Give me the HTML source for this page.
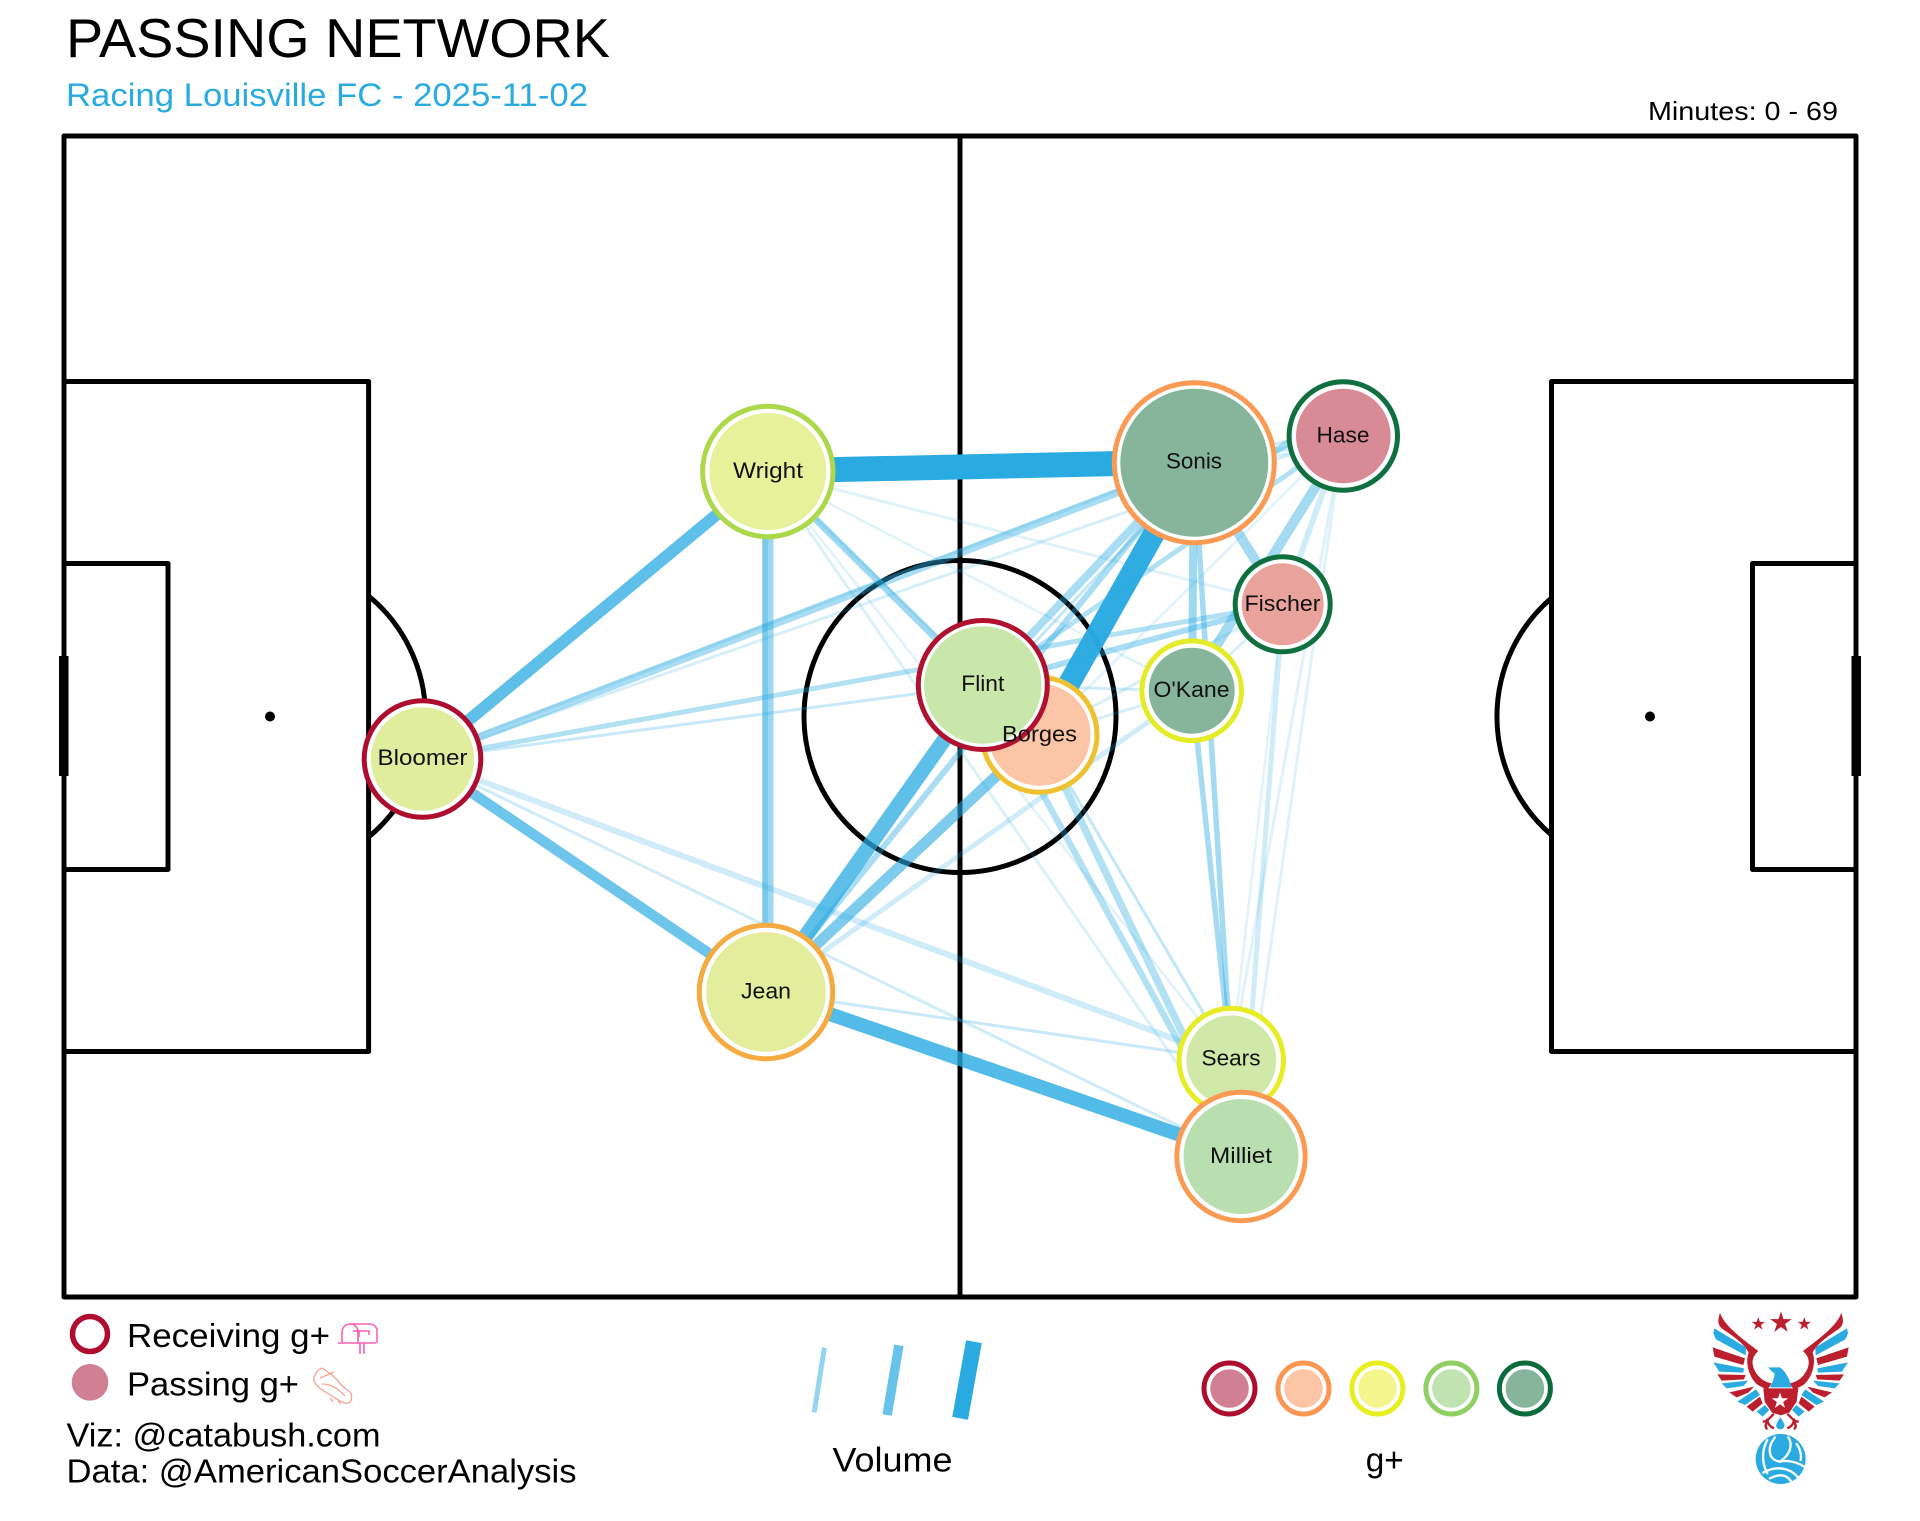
<!DOCTYPE html>
<html><head><meta charset="utf-8"><title>Passing Network</title>
<style>
html,body{margin:0;padding:0;background:#fff}
svg{display:block}
text{font-family:"Liberation Sans",sans-serif}
.n{font-size:22.5px;fill:#111;text-anchor:middle}
.e line{stroke:#29abe2;stroke-linecap:butt}
</style></head><body>
<svg xmlns="http://www.w3.org/2000/svg" width="1920" height="1521" viewBox="0 0 1920 1521">
<rect width="1920" height="1521" fill="#fff"/>

<!-- pitch -->
<g fill="none" stroke="#000" stroke-width="5" stroke-linejoin="round">
<rect x="64" y="136" width="1792" height="1161"/>
<line x1="960" y1="136" x2="960" y2="1297"/>
<circle cx="960" cy="716.5" r="156"/>
<path d="M64 381.5H368.6V1051.5H64"/>
<path d="M64 563.5H168V869.5H64"/>
<path d="M1856 381.5H1551.5V1051.5H1856"/>
<path d="M1856 563.5H1752.5V869.5H1856"/>
<path d="M368.6 596A156 156 0 0 1 368.6 837"/>
<path d="M1551.5 598A156 156 0 0 0 1551.5 835"/>
</g>
<rect x="59" y="656" width="9.5" height="120" fill="#000"/>
<rect x="1851.5" y="656" width="9.5" height="120" fill="#000"/>
<circle cx="270" cy="716.5" r="5" fill="#000"/>
<circle cx="1650" cy="716.5" r="5" fill="#000"/>

<!-- edges -->
<g class="e">
<line x1="422" y1="759" x2="1231" y2="1060" stroke-width="6" opacity=".22"/>
<line x1="422" y1="759" x2="1241" y2="1156" stroke-width="3" opacity=".22"/>
<line x1="422" y1="759" x2="1343" y2="436" stroke-width="3" opacity=".18"/>
<line x1="422" y1="759" x2="1194" y2="463" stroke-width="8" opacity=".4"/>
<line x1="422" y1="757" x2="1194" y2="461" stroke-width="3" opacity=".18"/>
<line x1="422" y1="759" x2="1283" y2="604" stroke-width="5" opacity=".35"/>
<line x1="422" y1="759" x2="983" y2="685" stroke-width="3" opacity=".25"/>
<line x1="768" y1="472" x2="1241" y2="1156" stroke-width="3" opacity=".16"/>
<line x1="768" y1="472" x2="1231" y2="1060" stroke-width="2.5" opacity=".14"/>
<line x1="768" y1="472" x2="1040" y2="735" stroke-width="3" opacity=".18"/>
<line x1="768" y1="472" x2="1192" y2="691" stroke-width="2.5" opacity=".14"/>
<line x1="768" y1="472" x2="1283" y2="604" stroke-width="3" opacity=".14"/>
<line x1="768" y1="472" x2="983" y2="685" stroke-width="7" opacity=".45"/>
<line x1="768" y1="472" x2="768" y2="992" stroke-width="11" opacity=".45"/>
<line x1="765" y1="472" x2="765" y2="992" stroke-width="6" opacity=".3"/>
<line x1="766" y1="992" x2="1231" y2="1060" stroke-width="3" opacity=".25"/>
<line x1="766" y1="992" x2="1192" y2="691" stroke-width="5" opacity=".22"/>
<line x1="766" y1="992" x2="1194" y2="463" stroke-width="6" opacity=".4"/>
<line x1="766" y1="992" x2="1040" y2="735" stroke-width="11" opacity=".6"/>
<line x1="1194" y1="463" x2="983" y2="685" stroke-width="8" opacity=".4"/>
<line x1="1200" y1="467" x2="990" y2="690" stroke-width="3" opacity=".28"/>
<line x1="1343" y1="436" x2="983" y2="685" stroke-width="5" opacity=".35"/>
<line x1="1343" y1="436" x2="1040" y2="735" stroke-width="3" opacity=".12"/>
<line x1="1194" y1="460" x2="1343" y2="430" stroke-width="3" opacity=".2"/>
<line x1="1194" y1="466" x2="1343" y2="438" stroke-width="5" opacity=".2"/>
<line x1="1194" y1="470" x2="1343" y2="444" stroke-width="3" opacity=".18"/>
<line x1="1194" y1="500" x2="1343" y2="410" stroke-width="7" opacity=".4"/>
<line x1="1194" y1="463" x2="1283" y2="604" stroke-width="10" opacity=".42"/>
<line x1="1194" y1="463" x2="1192" y2="691" stroke-width="8" opacity=".45"/>
<line x1="1194" y1="463" x2="1231" y2="1060" stroke-width="5.5" opacity=".42"/>
<line x1="1345" y1="440" x2="1190" y2="688" stroke-width="10" opacity=".42"/>
<line x1="1343" y1="436" x2="1283" y2="604" stroke-width="6" opacity=".22"/>
<line x1="1343" y1="436" x2="1231" y2="1060" stroke-width="3" opacity=".14"/>
<line x1="1343" y1="436" x2="1241" y2="1156" stroke-width="3" opacity=".14"/>
<line x1="1283" y1="604" x2="1241" y2="1156" stroke-width="5" opacity=".22"/>
<line x1="1283" y1="604" x2="1231" y2="1060" stroke-width="2.5" opacity=".13"/>
<line x1="1192" y1="691" x2="1241" y2="1156" stroke-width="5.5" opacity=".42"/>
<line x1="1283" y1="604" x2="983" y2="685" stroke-width="6" opacity=".4"/>
<line x1="1283" y1="604" x2="1040" y2="735" stroke-width="3" opacity=".18"/>
<line x1="1283" y1="604" x2="1192" y2="691" stroke-width="3" opacity=".18"/>
<line x1="1192" y1="691" x2="983" y2="685" stroke-width="3" opacity=".22"/>
<line x1="1192" y1="691" x2="1040" y2="735" stroke-width="3" opacity=".18"/>
<line x1="983" y1="685" x2="1241" y2="1156" stroke-width="6.5" opacity=".35"/>
<line x1="1040" y1="735" x2="1241" y2="1156" stroke-width="7.5" opacity=".35"/>
<line x1="1040" y1="735" x2="1231" y2="1060" stroke-width="3" opacity=".28"/>
<line x1="422" y1="759" x2="768" y2="472" stroke-width="12" opacity=".75"/>
<line x1="422" y1="759" x2="766" y2="992" stroke-width="10.5" opacity=".68"/>
<line x1="766" y1="992" x2="1241" y2="1156" stroke-width="14" opacity=".8"/>
<line x1="983" y1="685" x2="766" y2="992" stroke-width="15" opacity=".75"/>
<line x1="1194" y1="463" x2="1040" y2="735" stroke-width="22" opacity=".97"/>
<line x1="768" y1="471" x2="1194" y2="462" stroke-width="25"/>
</g>

<!-- nodes -->
<g stroke-width="5">
<circle cx="1194.3" cy="462.7" r="80" fill="#fff" stroke="#fb9a52"/><circle cx="1194.3" cy="462.7" r="74" fill="#86b59c"/>
<circle cx="1343.3" cy="436" r="54.2" fill="#fff" stroke="#0f6f3f"/><circle cx="1343.3" cy="436" r="47.3" fill="#d88a97"/>
<circle cx="1282.7" cy="604.3" r="47.5" fill="#fff" stroke="#0f6f3f"/><circle cx="1282.7" cy="604.3" r="41" fill="#e9a39c"/>
<circle cx="1191.7" cy="690.7" r="49.8" fill="#fff" stroke="#e4ec28"/><circle cx="1191.7" cy="690.7" r="43" fill="#86b59c"/>
<circle cx="1039.5" cy="734.7" r="57.5" fill="#fff" stroke="#efc02f"/><circle cx="1039.5" cy="734.7" r="51" fill="#fcc6a6"/>
<circle cx="982.8" cy="685" r="64.5" fill="#fff" stroke="#b0112f"/><circle cx="982.8" cy="685" r="58.8" fill="#c9e7aa"/>
<circle cx="767.8" cy="471.5" r="65.2" fill="#fff" stroke="#acd84a"/><circle cx="767.8" cy="471.5" r="58.5" fill="#e7f19a"/>
<circle cx="422.5" cy="759" r="58.3" fill="#fff" stroke="#ae0d2f"/><circle cx="422.5" cy="759" r="51.7" fill="#e0ed9d"/>
<circle cx="766" cy="992" r="66.7" fill="#fff" stroke="#f6ab40"/><circle cx="766" cy="992" r="59.8" fill="#e2ee9c"/>
<circle cx="1231.3" cy="1060.4" r="52.2" fill="#fff" stroke="#e8ec22"/><circle cx="1231.3" cy="1060.4" r="45" fill="#d1e9a8"/>
<circle cx="1241" cy="1156.5" r="64.2" fill="#fff" stroke="#fb9a52"/><circle cx="1241" cy="1156.5" r="57.5" fill="#b9dfb0"/>
</g>

<!-- node labels -->
<text class="n" x="1194" y="468.5" textLength="56" lengthAdjust="spacingAndGlyphs">Sonis</text>
<text class="n" x="1343" y="442.7" textLength="53" lengthAdjust="spacingAndGlyphs">Hase</text>
<text class="n" x="1282.5" y="611" textLength="76" lengthAdjust="spacingAndGlyphs">Fischer</text>
<text class="n" x="1191.5" y="697" textLength="76" lengthAdjust="spacingAndGlyphs">O'Kane</text>
<text class="n" x="1039.5" y="741.5" textLength="75" lengthAdjust="spacingAndGlyphs">Borges</text>
<text class="n" x="982.8" y="691" textLength="43" lengthAdjust="spacingAndGlyphs">Flint</text>
<text class="n" x="768" y="478" textLength="70" lengthAdjust="spacingAndGlyphs">Wright</text>
<text class="n" x="422.5" y="765" textLength="90" lengthAdjust="spacingAndGlyphs">Bloomer</text>
<text class="n" x="766" y="998.5" textLength="50" lengthAdjust="spacingAndGlyphs">Jean</text>
<text class="n" x="1231" y="1065.7" textLength="59" lengthAdjust="spacingAndGlyphs">Sears</text>
<text class="n" x="1241" y="1163" textLength="62" lengthAdjust="spacingAndGlyphs">Milliet</text>

<!-- header -->
<text x="66" y="57" font-size="55" fill="#000" textLength="544" lengthAdjust="spacingAndGlyphs">PASSING NETWORK</text>
<text x="66" y="106" font-size="32" fill="#29abe2" textLength="522" lengthAdjust="spacingAndGlyphs">Racing Louisville FC - 2025-11-02</text>
<text x="1648" y="120" font-size="26" fill="#000" textLength="190" lengthAdjust="spacingAndGlyphs">Minutes: 0 - 69</text>

<!-- legend left -->
<circle cx="90" cy="1334" r="17.5" fill="#fff" stroke="#ae0d2f" stroke-width="5.5"/>
<circle cx="90" cy="1382.3" r="18.3" fill="#d18094"/>
<text x="127" y="1347" font-size="33" fill="#000" textLength="203" lengthAdjust="spacingAndGlyphs">Receiving g+</text>
<text x="127" y="1395.5" font-size="33" fill="#000" textLength="172" lengthAdjust="spacingAndGlyphs">Passing g+</text>
<text x="66.5" y="1446.7" font-size="33" fill="#000" textLength="314" lengthAdjust="spacingAndGlyphs">Viz: @catabush.com</text>
<text x="66.5" y="1482.5" font-size="33" fill="#000" textLength="510" lengthAdjust="spacingAndGlyphs">Data: @AmericanSoccerAnalysis</text>

<!-- mailbox icon -->
<g fill="none" stroke="#ff5fb0" stroke-width="1.6">
<path d="M338 1343H376"/>
<path d="M342 1343V1332A8 8 0 0 1 358 1332V1343"/>
<path d="M350 1324H370A7 7 0 0 1 377 1331V1343"/>
<path d="M353 1331H369V1335M359 1331V1337"/>
<path d="M360 1343V1354M364 1343V1354"/>
</g>
<!-- boot icon -->
<g fill="none" stroke="#f6a294" stroke-width="1.3">
<path d="M322 1368C318 1369 313 1376 314 1381C316 1386 322 1390 327 1393C334 1397 342 1404 349 1403C352 1401 352 1396 351 1393C347 1389 342 1387 338 1381C334 1376 328 1372 322 1368Z"/>
<path d="M320 1378L334 1372M322 1384C330 1384 338 1388 345 1396M330 1398L333 1402M338 1401L341 1404"/>
</g>

<!-- volume legend -->
<g stroke="#29abe2">
<line x1="824.4" y1="1347.7" x2="814.2" y2="1412.3" stroke-width="5" opacity=".5"/>
<line x1="898.9" y1="1345.3" x2="887.1" y2="1415" stroke-width="9.5" opacity=".7"/>
<line x1="973.9" y1="1341.7" x2="960.1" y2="1418.3" stroke-width="16"/>
</g>
<text x="832.5" y="1471.5" font-size="34" fill="#000" textLength="120" lengthAdjust="spacingAndGlyphs">Volume</text>
<text x="1365.7" y="1471.5" font-size="34" fill="#000" textLength="38" lengthAdjust="spacingAndGlyphs">g+</text>

<!-- g+ legend -->
<g stroke-width="5">
<circle cx="1229.5" cy="1388.5" r="25.5" fill="#fff" stroke="#ae0d2f"/><circle cx="1229.5" cy="1388.5" r="19.3" fill="#d18094"/>
<circle cx="1303.5" cy="1388.5" r="25.5" fill="#fff" stroke="#fc9653"/><circle cx="1303.5" cy="1388.5" r="19.3" fill="#fcc6a6"/>
<circle cx="1377.4" cy="1388.5" r="25.5" fill="#fff" stroke="#e9ee1f"/><circle cx="1377.4" cy="1388.5" r="19.3" fill="#f4f58d"/>
<circle cx="1451.4" cy="1388.5" r="25.5" fill="#fff" stroke="#8fcf63"/><circle cx="1451.4" cy="1388.5" r="19.3" fill="#c0e3b1"/>
<circle cx="1524.9" cy="1388.5" r="25.5" fill="#fff" stroke="#0c6b3d"/><circle cx="1524.9" cy="1388.5" r="19.3" fill="#86b59c"/>
</g>

<!-- logo -->
<g transform="translate(1680 1290) scale(.3333)">
<defs>
<polygon id="st" points="0,-1 .225,-.309 .951,-.309 .363,.118 .588,.809 0,.382 -.588,.809 -.363,.118 -.951,-.309 -.225,-.309"/>
<g id="wing">
<path d="M120 68C112 95 112 108 135 122C165 142 195 165 206 188C196 215 204 258 232 284L262 300L275 280C245 275 222 250 218 222C216 205 225 192 235 183C190 150 130 105 120 68Z" fill="#bd1e2d"/>
<polygon points="103,115 198,172 197,196 108,148 100,130" fill="#29abe2"/>
<polygon points="98,172 195,205 190,225 103,200" fill="#bd1e2d"/>
<polygon points="100,217 192,235 190,248 118,245" fill="#29abe2"/>
<polygon points="112,253 197,255 192,268 125,272" fill="#bd1e2d"/>
<polygon points="125,280 205,272 190,288 140,295" fill="#29abe2"/>
<polygon points="148,307 222,290 205,308 170,322" fill="#bd1e2d"/>
<polygon points="172,335 228,298 240,315 195,345" fill="#29abe2"/>
<polygon points="200,350 240,320 248,340 218,365" fill="#bd1e2d"/>
<polygon points="230,365 255,345 268,360 248,380" fill="#29abe2"/>
<path d="M282 372C270 380 265 395 248 395M262 385C262 400 270 410 282 415M262 395C255 405 255 412 262 418" fill="none" stroke="#bd1e2d" stroke-width="7"/>
</g>
</defs>
<use href="#st" transform="translate(235 102) scale(21)" fill="#bd1e2d"/>
<use href="#st" transform="translate(303 98) scale(34)" fill="#bd1e2d"/>
<use href="#st" transform="translate(373 102) scale(21)" fill="#bd1e2d"/>
<use href="#wing"/>
<use href="#wing" transform="translate(604 0) scale(-1 1)"/>
<polygon points="250,295 355,295 350,335 328,368 302,376 276,368 254,335" fill="#bd1e2d"/>
<path d="M265 232L300 232C318 245 330 270 335 292L270 292C278 275 285 262 283 250C278 246 270 240 265 232Z" fill="#29abe2"/>
<use href="#st" transform="translate(300 333) scale(26)" fill="#fff"/>
<path d="M301 382C292 395 286 405 290 412C296 420 306 420 312 412C316 405 310 395 301 382Z" fill="#29abe2"/>
<circle cx="302" cy="507" r="75" fill="#29abe2"/>
<g fill="none" stroke="#fff" stroke-width="7" stroke-linecap="round">
<path d="M262 450C245 480 245 520 262 550"/>
<path d="M285 442C262 470 262 510 300 515"/>
<path d="M300 515C330 495 340 465 325 442"/>
<path d="M300 515C320 510 350 515 372 530"/>
<path d="M250 548C290 525 330 535 352 560"/>
<path d="M270 565C300 550 320 555 332 572"/>
<path d="M350 462C360 475 365 495 362 510"/>
</g>
</g>
</svg>
</body></html>
